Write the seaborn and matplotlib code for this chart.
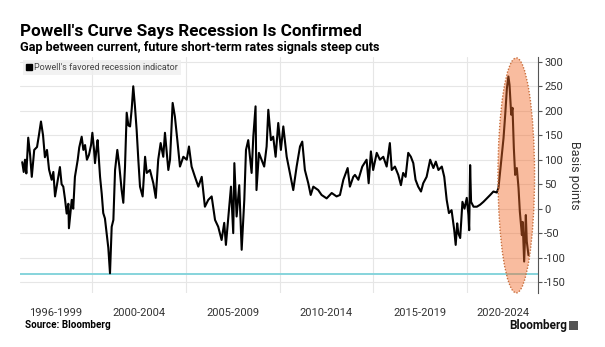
import matplotlib
matplotlib.use("Agg")
import matplotlib.pyplot as plt
from matplotlib.patches import Ellipse, Rectangle
from matplotlib.lines import Line2D
import seaborn as sns
import pandas as pd

# ---- data ----
years = [
    1996.28, 1996.36, 1996.43, 1996.50, 1996.60, 1996.70, 1996.79, 1996.92, 1997.07, 1997.17,
    1997.28, 1997.39, 1997.49, 1997.60, 1997.71, 1997.85, 1997.94, 1998.03, 1998.20, 1998.29,
    1998.38, 1998.47, 1998.56, 1998.65, 1998.74, 1998.77, 1998.92, 1999.00, 1999.09, 1999.24,
    1999.32, 1999.45, 1999.54, 1999.63, 1999.73, 1999.84, 1999.95, 2000.02, 2000.11, 2000.16,
    2000.25, 2000.30, 2000.37, 2000.43, 2000.52, 2000.60, 2000.69, 2000.78, 2000.87, 2000.96,
    2001.05, 2001.14, 2001.23, 2001.35, 2001.46, 2001.58, 2001.67, 2001.76, 2001.85, 2001.94,
    2002.03, 2002.12, 2002.20, 2002.29, 2002.38, 2002.47, 2002.56, 2002.70, 2002.83, 2002.92,
    2003.09, 2003.27, 2003.40, 2003.53, 2003.66, 2003.80, 2003.89, 2004.07, 2004.16, 2004.30,
    2004.42, 2004.55, 2004.69, 2004.87, 2005.05, 2005.17, 2005.31, 2005.49, 2005.67, 2005.85,
    2006.02, 2006.20, 2006.38, 2006.56, 2006.73, 2006.91, 2007.05, 2007.14, 2007.27, 2007.41,
    2007.53, 2007.59, 2007.71, 2007.85, 2007.98, 2008.12, 2008.21, 2008.33, 2008.51, 2008.60,
    2008.72, 2008.77, 2008.90, 2009.04, 2009.18, 2009.31, 2009.40, 2009.54, 2009.66, 2009.79,
    2009.93, 2010.07, 2010.20, 2010.38, 2010.55, 2010.73, 2010.91, 2011.09, 2011.21, 2011.35,
    2011.53, 2011.66, 2011.80, 2012.06, 2012.24, 2012.51, 2012.78, 2013.04, 2013.22, 2013.40,
    2013.63, 2013.75, 2013.93, 2014.02, 2014.20, 2014.41, 2014.64, 2014.75, 2014.87, 2014.99,
    2015.18, 2015.35, 2015.53, 2015.71, 2015.88, 2015.98, 2016.15, 2016.33, 2016.47, 2016.59,
    2016.72, 2016.86, 2017.00, 2017.13, 2017.25, 2017.39, 2017.54, 2017.66, 2017.84, 2018.03,
    2018.20, 2018.33, 2018.47, 2018.65, 2018.78, 2018.91, 2019.03, 2019.17, 2019.31, 2019.39,
    2019.47, 2019.53, 2019.63, 2019.75, 2019.86, 2019.98, 2020.07, 2020.11, 2020.16, 2020.21,
    2020.34, 2020.52, 2020.69, 2020.87, 2021.05, 2021.23, 2021.40, 2021.58, 2021.67, 2021.76,
    2021.85, 2021.94, 2022.03, 2022.12, 2022.20, 2022.26, 2022.35, 2022.42, 2022.49, 2022.56,
    2022.65, 2022.74, 2022.81, 2022.92, 2022.96, 2023.04, 2023.13, 2023.18, 2023.27,
]
basis_points = [
    95, 75, 100, 72, 145, 110, 65, 120, 126, 150,
    178, 150, 105, 120, 80, 59, 75, 25, 65, 85,
    50, 45, 20, -10, 10, -40, 18, 0, 65, 100,
    125, 147, 120, 130, 100, 110, 130, 155, 120, 93,
    125, 140, 100, 65, 30, -9, -20, -50, -80, -132,
    -37, -23, 79, 120, 86, 38, 12, 86, 196, 170,
    168, 205, 250, 209, 161, 100, 45, 25, 106, 73,
    79, 52, 22, 100, 134, 106, 155, 79, 100, 216,
    188, 140, 86, 106, 100, 127, 86, 65, 45, 65,
    4, 18, 25, -23, -37, -64, -29, -74, -16, 45,
    -50, 93, -16, 48, -84, 18, 120, 140, 73, 147,
    209, 38, 114, 100, 86, 127, 202, 140, 147, 106,
    175, 120, 168, 106, 73, 38, 86, 127, 137, 79,
    52, 28, 45, 38, 28, 21, 32, 25, 28, 59,
    83, 45, 65, 69, 59, 86, 100, 52, 117, 79,
    114, 100, 106, 86, 134, 79, 86, 69, 48, 73,
    65, 114, 106, 93, 59, 45, 35, 52, 65, 100,
    83, 96, 79, 86, 65, 18, -9, -3, -43, -74,
    -30, -50, -60, 14, 0, 22, -13, -44, 89, 14,
    4, 4, 8, 14, 21, 28, 35, 33, 42, 76,
    110, 144, 192, 246, 270, 253, 192, 206, 124, 69,
    83, 42, -6, -54, -27, -108, -13, -67, -95,
]
period_labels = ["1996-1999", "2000-2004", "2005-2009", "2010-2014", "2015-2019", "2020-2024"]
period_label_pos = [1998.08, 2002.5, 2007.5, 2012.5, 2017.5, 2021.9]
period_bounds = [2000, 2005, 2010, 2015, 2020]
y_ticks = [-150, -100, -50, 0, 50, 100, 150, 200, 250, 300]
threshold = -133
series_name = "Powell's favored recession indicator"

df = pd.DataFrame({"year": years, "bp": basis_points})

# ---- figure ----
sns.set_style("white")
plt.rcParams["font.family"] = ["Roboto", "DejaVu Sans"]
plt.rcParams["axes.unicode_minus"] = False

fig = plt.figure(figsize=(6.05, 3.47), dpi=100)
ax = fig.add_axes([0.033, 0.156, 0.856, 0.680])

ax.set_xlim(1996.16, 2023.77)
ax.set_ylim(-172, 310)

# grid
ax.set_yticks(y_ticks)
ax.set_xticks(period_label_pos)
ax.set_xticklabels(period_labels)
ax.set_xticks(period_bounds, minor=True)
ax.grid(axis="y", which="major", color="#e6e6e6", lw=0.8)
ax.grid(axis="x", which="minor", color="#e6e6e6", lw=0.8)
ax.grid(axis="x", which="major", visible=False)

ax.axhline(threshold, color="#86d4dc", lw=1.4, zorder=2)

sns.lineplot(data=df, x="year", y="bp", ax=ax, color="black", lw=1.5, zorder=3)

# highlight ellipse
ell = Ellipse((2022.62, 68), 1.95, 480, facecolor="#F26B2A", alpha=0.45,
              edgecolor="none", zorder=4, clip_on=False)
ax.add_patch(ell)
ell2 = Ellipse((2022.62, 68), 1.95, 480, facecolor="none", edgecolor="#c8703f",
               lw=1.0, ls=(0, (1, 1.2)), zorder=5, clip_on=False)
ax.add_patch(ell2)

# axes styling
for s in ["top", "left", "bottom"]:
    ax.spines[s].set_visible(False)
ax.spines["right"].set_color("#555555")
ax.spines["right"].set_linewidth(0.8)
ax.yaxis.tick_right()
ax.yaxis.set_label_position("right")
ax.tick_params(axis="y", which="major", direction="out", length=3, width=0.8,
               color="#555555", labelsize=8, labelcolor="#333333", pad=1.5)
ax.tick_params(axis="x", which="both", length=0, labelsize=8, labelcolor="#333333", pad=11)
ax.set_xlabel("")
ax.set_ylabel("Basis points", fontsize=9, color="#333333", rotation=270, labelpad=11)

# legend
handle = Line2D([], [], marker="s", color="black", lw=0, markersize=4)
leg = ax.legend([handle], [series_name], loc="upper left", bbox_to_anchor=(0.0, 1.0),
                frameon=True, fontsize=6.5, handlelength=0.6, handletextpad=0.3,
                borderpad=0.35, borderaxespad=0.3, labelcolor="#444444")
leg.get_frame().set_facecolor("#efefef")
leg.get_frame().set_edgecolor("none")
leg.get_frame().set_boxstyle("square", pad=0)

# titles
fig.text(0.033, 0.895, "Powell's Curve Says Recession Is Confirmed", fontsize=12.3,
         fontweight="bold", color="black", va="baseline")
fig.text(0.033, 0.853, "Gap between current, future short-term rates signals steep cuts",
         fontsize=9.1, fontweight="bold", color="black", va="baseline")
fig.text(0.041, 0.062, "Source: Bloomberg", fontsize=7.1, fontweight="bold",
         color="black", va="center")
fig.text(0.937, 0.062, "Bloomberg", fontsize=8.5, fontweight="bold", color="#111111",
         va="center", ha="right")
fig.patches.append(Rectangle((0.940, 0.048), 0.016, 0.028, transform=fig.transFigure,
                             facecolor="#555555", edgecolor="none"))

fig.savefig("out.png", dpi=100)
